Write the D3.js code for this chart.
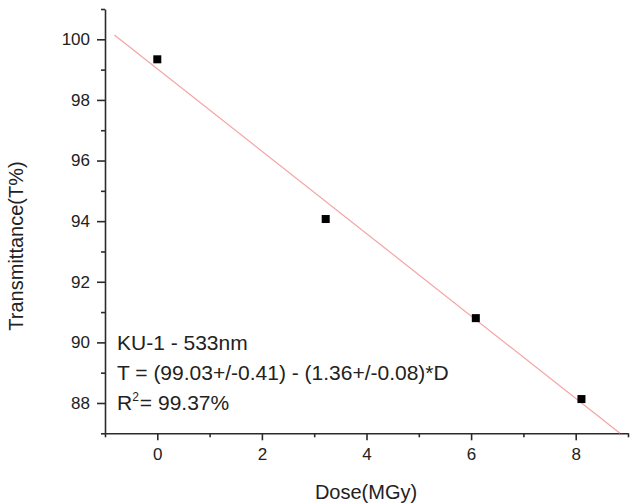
<!DOCTYPE html>
<html>
<head>
<meta charset="utf-8">
<script src="https://cdn.jsdelivr.net/npm/d3@7"></script>
<style>
  html, body { margin: 0; padding: 0; background: #fff; }
  svg { display: block; font-family: Arial, "Liberation Sans", Helvetica, sans-serif; }
</style>
</head>
<body>
<svg id="chart" width="631" height="504"></svg>
<script>
// Measured transmittance of KU-1 at 533 nm versus absorbed dose
const doses = [0, 3.22, 6.09, 8.11];
const transmittance = [99.34, 94.07, 90.80, 88.13];

// Linear fit T = a - b*D, drawn over this dose span
const fitIntercept = 99.03;
const fitSlope = -1.36;
const fitSpan = [-0.82, 8.846];

const xMajorTicks = [0, 2, 4, 6, 8];
const xMinorTicks = [-1, 1, 3, 5, 7, 9];
const yMajorTicks = [88, 90, 92, 94, 96, 98, 100];
const yMinorTicks = [87, 89, 91, 93, 95, 97, 99, 101];

const annotationLines = [
  "KU-1 - 533nm",
  "T = (99.03+/-0.41) - (1.36+/-0.08)*D"
];
const r2Label = { base: "R", sup: "2", rest: "= 99.37%" };

const xTitle = "Dose(MGy)";
const yTitle = "Transmittance(T%)";

const svg = d3.select("#chart");
const axisColor = "#2b2b2b";
const textColor = "#222";

const x = d3.scaleLinear().domain([-1, 9]).range([105, 628]);
const y = d3.scaleLinear().domain([87, 101]).range([433.3, 9]);

// Axes: major ticks with labels, minor ticks without
function styleAxis(g) {
  g.select(".domain").attr("stroke", axisColor).attr("stroke-width", 1.6);
  g.selectAll(".tick line").attr("stroke", axisColor).attr("stroke-width", 1.6);
  g.selectAll(".tick text").attr("fill", textColor).attr("font-size", 17);
}

svg.append("g")
  .attr("transform", `translate(0,${y.range()[0]})`)
  .call(d3.axisBottom(x).tickValues(xMajorTicks).tickSize(7).tickPadding(8).tickSizeOuter(0).tickFormat(d3.format("d")))
  .call(styleAxis);
svg.append("g")
  .attr("transform", `translate(0,${y.range()[0]})`)
  .call(d3.axisBottom(x).tickValues(xMinorTicks).tickSize(4).tickSizeOuter(0).tickFormat(""))
  .call(styleAxis)
  .call(g => g.select(".domain").remove());

svg.append("g")
  .attr("transform", `translate(${x.range()[0]},0)`)
  .call(d3.axisLeft(y).tickValues(yMajorTicks).tickSize(8).tickPadding(7).tickSizeOuter(0).tickFormat(d3.format("d")))
  .call(styleAxis);
svg.append("g")
  .attr("transform", `translate(${x.range()[0]},0)`)
  .call(d3.axisLeft(y).tickValues(yMinorTicks).tickSize(4).tickSizeOuter(0).tickFormat(""))
  .call(styleAxis)
  .call(g => g.select(".domain").remove());

// Fit line
const fitPoints = fitSpan.map(d => [d, fitIntercept + fitSlope * d]);
svg.append("path")
  .datum(fitPoints)
  .attr("fill", "none")
  .attr("stroke", "#f4a4a4")
  .attr("stroke-width", 1.2)
  .attr("d", d3.line().x(d => x(d[0])).y(d => y(d[1])));

// Data points as filled squares
const sq = 8;
svg.append("g").selectAll("rect")
  .data(doses.map((d, i) => [d, transmittance[i]]))
  .join("rect")
  .attr("x", d => x(d[0]) - sq / 2)
  .attr("y", d => y(d[1]) - sq / 2)
  .attr("width", sq)
  .attr("height", sq)
  .attr("fill", "#000");

// Fit annotation
const ann = svg.append("g").attr("fill", textColor).attr("font-size", 21);
annotationLines.forEach((t, i) => {
  ann.append("text").attr("x", 117).attr("y", 350 + i * 30).text(t);
});
const r2 = ann.append("text").attr("x", 117).attr("y", 410);
r2.append("tspan").text(r2Label.base);
r2.append("tspan").attr("font-size", 12).attr("dy", -9).text(r2Label.sup);
r2.append("tspan").attr("dy", 9).attr("dx", 1).text(r2Label.rest);

// Axis titles
svg.append("text")
  .attr("x", 366).attr("y", 499)
  .attr("text-anchor", "middle")
  .attr("font-size", 20)
  .attr("fill", textColor)
  .text(xTitle);

svg.append("text")
  .attr("transform", "translate(23,246) rotate(-90)")
  .attr("text-anchor", "middle")
  .attr("font-size", 20)
  .attr("fill", textColor)
  .text(yTitle);
</script>
</body>
</html>
